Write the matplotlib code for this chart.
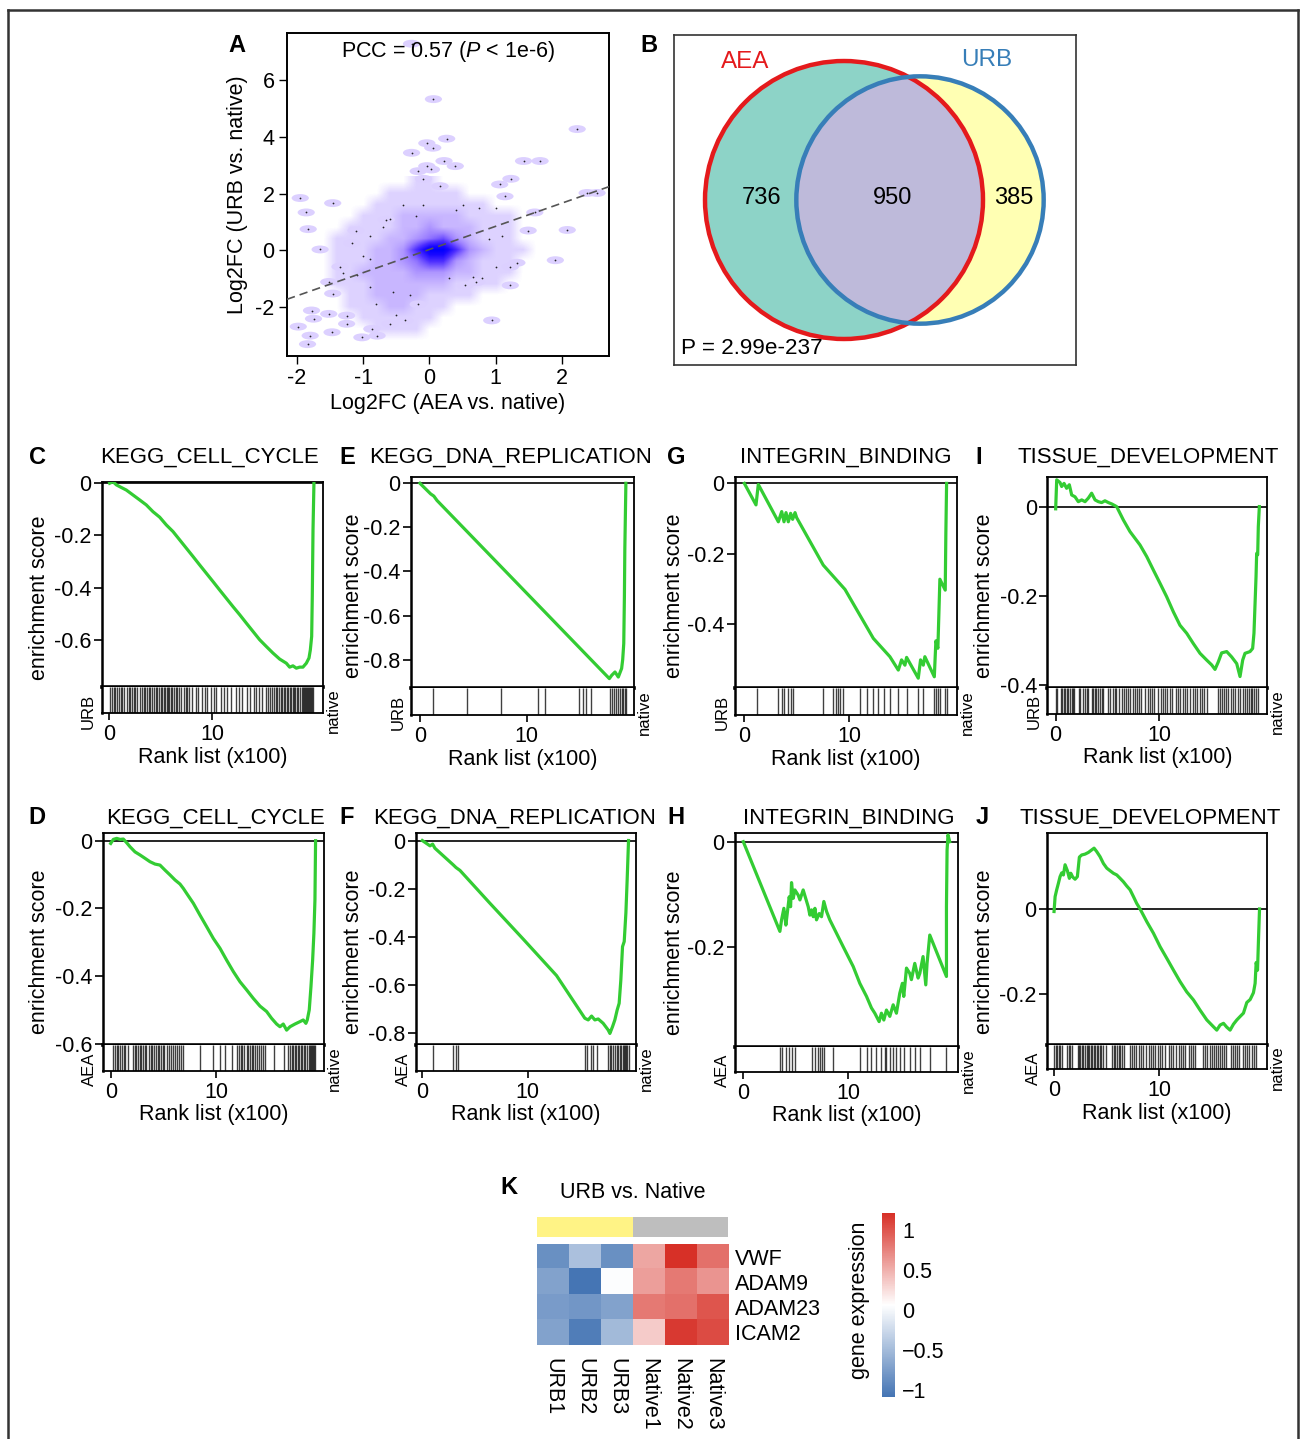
import numpy as np
import matplotlib
matplotlib.use("Agg")
import matplotlib.pyplot as plt
from matplotlib.colors import LinearSegmentedColormap, Normalize
from matplotlib.patches import Circle, Ellipse
from matplotlib.lines import Line2D

plt.rcParams['font.family'] = ['Liberation Sans', 'DejaVu Sans']
plt.rcParams['axes.unicode_minus'] = False
plt.rcParams['mathtext.fontset'] = 'custom'
plt.rcParams['mathtext.rm'] = 'Liberation Sans'
plt.rcParams['mathtext.it'] = 'Liberation Sans:italic'

FS = 15.5
W, H = 1300, 1439

# ---------------- data: panel A (smooth scatter) ----------------
dens_x = [-1.6, -1.4, -1.2, -1.0, -0.8, -0.6, -0.4, -0.2, 0.0, 0.2, 0.4, 0.6, 0.8, 1.0, 1.2, 1.4, 1.6]
dens_y = [2.4, 2.0, 1.6, 1.2, 0.8, 0.4, 0.0, -0.4, -0.8, -1.2, -1.6, -2.0, -2.4, -2.8, -3.2]
dens_rows = [
    "00000001100000000",
    "00000111111000000",
    "00001111111110000",
    "00011122222111100",
    "00111122322211100",
    "01111223453211100",
    "01112236996321110",
    "01112234663211100",
    "01122223332211100",
    "01112222221111000",
    "00112222111100000",
    "00111221110000000",
    "00011111100000000",
    "00001111000000000",
    "00000000000000000",
]
out_x = [-0.27, 0.06, 2.23, 0.26, -0.04, 0.05, -0.27, 1.42, 1.67, 0.22, 0.39, -0.04, 0.03, -0.17,
         -0.09, 1.23, 0.16, 1.06, -1.95, -1.46, 2.53, 2.38, -1.86, 1.14, 1.59, -0.65, -1.83, -1.11,
         2.08, -1.65, -1.17, 1.90, 0.94, -1.98, -1.84, -1.80, -1.78, -1.75, -1.52, -1.47, -1.25,
         -1.25, -1.02, -0.79, -0.87, -0.37, -0.59, -0.17, 1.22, 1.32, 1.22, 0.71, 0.54, -1.46,
         -1.35, -1.52, 1.49]
out_y = [7.30, 5.34, 4.28, 3.94, 3.78, 3.62, 3.44, 3.15, 3.15, 3.15, 2.97, 2.97, 2.85, 2.79,
         2.52, 2.52, 2.26, 2.32, 1.84, 1.66, 2.02, 2.02, 1.33, 1.90, 1.33, 1.07, 0.74, 0.69,
         0.71, 0.02, 0.24, -0.36, -2.49, -2.71, -3.33, -3.03, -2.14, -2.43, -2.26, -2.91, -2.32,
         -2.61, -3.09, -3.03, -2.79, -2.49, -2.61, -1.92, -0.59, -0.45, -1.25, -1.13, -1.25, -1.54,
         -0.59, -1.13, 0.69]
dot_x = [-0.6, -0.4, -0.1, 0.4, 0.75, 1.0, -0.9, -0.9, -1.1, -0.9, -0.55, -0.3, -0.5, 0.3, 0.8,
         0.9, 1.1, 1.0, -0.7, -0.2, -1.3, -1.0, 0.5, -0.8, 0.65]
dot_y = [1.1, 1.6, 1.6, 1.4, 1.5, 1.5, 0.5, -0.3, -0.9, -1.3, -1.5, -1.6, -2.3, -1.0, -1.0,
         0.4, 0.5, -0.6, 0.8, 1.2, -0.8, -0.2, 1.6, -1.9, -0.95]
fit_slope = 0.82
fit_intercept = 0.02

# ---------------- data: panel B (venn) ----------------
venn_only_aea, venn_both, venn_only_urb = 736, 950, 385
venn_p = "P = 2.99e-237"

# ---------------- data: GSEA curves (rank x100, enrichment score) ----------------
c_rank = [0.06, 0.39, 0.71, 1.04, 1.68, 2.33, 2.98, 3.62, 4.27, 4.92, 5.57, 6.21, 6.86, 7.51, 8.16,
          8.80, 9.45, 10.1, 10.74, 11.39, 12.04, 12.69, 13.33, 13.98, 14.63, 15.28, 15.92, 16.57,
          17.22, 17.54, 17.86, 18.19, 18.51, 18.83, 19.16, 19.42, 19.55, 19.68, 19.74, 19.81, 19.9]
c_es = [0, 0.006, -0.006, -0.013, -0.026, -0.045, -0.064, -0.083, -0.109, -0.13, -0.16, -0.185,
        -0.217, -0.249, -0.281, -0.313, -0.345, -0.377, -0.409, -0.441, -0.473, -0.504, -0.536,
        -0.568, -0.60, -0.626, -0.651, -0.674, -0.69, -0.705, -0.70, -0.709, -0.705, -0.705, -0.69,
        -0.67, -0.639, -0.587, -0.434, -0.179, 0]
c_hits = [0.1, 0.3, 0.5, 0.6, 0.8, 1.0, 1.2, 1.3, 1.5, 1.7, 1.9, 2.0, 2.2, 2.4, 2.5, 2.7, 3.0, 3.2,
          3.4, 3.5, 3.7, 3.9, 4.0, 4.2, 4.4, 4.6, 4.7, 4.9, 5.0, 5.1, 5.3, 5.4, 5.6, 5.7, 5.8, 6.0,
          6.1, 6.3, 6.5, 6.6, 6.8, 7.0, 7.3, 7.5, 7.6, 7.8, 8.1, 8.4, 8.6, 9.0, 9.3, 9.5, 9.9, 10.2,
          10.4, 10.9, 11.2, 11.5, 11.8, 12.3, 12.6, 12.9, 13.4, 13.7, 14.1, 14.3, 14.6, 14.9, 15.2,
          15.4, 15.6, 15.8, 16.0, 16.2, 16.3, 16.5, 16.7, 16.8, 17.0, 17.1, 17.3, 17.4, 17.6, 17.7,
          17.9, 18.0, 18.1, 18.3, 18.4, 18.5, 18.7, 18.8, 18.9, 19.0, 19.1, 19.2, 19.3, 19.4, 19.5,
          19.6, 19.7, 19.8]

e_rank = [0, 1.0, 1.3, 1.6, 17.75, 17.97, 18.28, 18.59, 18.9, 19.0, 19.1, 19.16, 19.2, 19.3]
e_es = [0, -0.048, -0.058, -0.078, -0.886, -0.871, -0.856, -0.879, -0.84, -0.80, -0.727, -0.515,
        -0.30, 0]
e_hits = [1.19, 4.38, 7.6, 11.1, 11.7, 14.9, 15.3, 15.6, 16.0, 17.8, 18.0, 18.2, 18.4, 18.6, 18.75,
          18.9, 19.06, 19.2, 19.3]

g_rank = [0, 1.11, 1.33, 3.24, 3.56, 3.78, 3.97, 4.19, 4.41, 4.60, 4.83, 4.98, 7.52, 9.59, 12.29,
          13.87, 14.67, 14.98, 15.3, 15.46, 16.57, 16.79, 17.05, 17.2, 18.1, 18.25, 18.44, 18.63,
          19.14, 19.2, 19.27]
g_es = [0, -0.061, -0.003, -0.109, -0.080, -0.109, -0.083, -0.109, -0.085, -0.102, -0.083, -0.097,
        -0.232, -0.301, -0.44, -0.492, -0.53, -0.501, -0.516, -0.494, -0.553, -0.501, -0.516,
        -0.492, -0.549, -0.447, -0.468, -0.272, -0.303, -0.142, 0]
g_hits = [1.17, 3.24, 3.56, 3.78, 4.19, 4.41, 4.67, 7.52, 8.48, 8.73, 8.89, 9.11, 9.37, 11.02,
          11.65, 12.29, 12.76, 13.3, 13.87, 14.67, 15.46, 16.57, 17.05, 18.1, 18.25, 18.44, 18.63,
          19.14, 19.33]

i_rank = [0, 0.1, 0.42, 0.58, 0.81, 1.06, 1.32, 1.55, 1.87, 2.19, 2.52, 2.84, 3.16, 3.48, 3.81,
          4.13, 4.45, 4.77, 5.1, 5.42, 5.9, 6.55, 7.19, 8.16, 8.81, 9.45, 10.1, 10.74, 11.39, 12.03,
          12.68, 13.32, 13.97, 14.61, 15.1, 15.42, 15.74, 16.06, 16.55, 17.03, 17.52, 17.84, 18.1,
          18.32, 18.81, 19.06, 19.19, 19.39, 19.45, 19.55, 19.61, 19.71]
i_es = [-0.005, 0.06, 0.054, 0.045, 0.052, 0.041, 0.049, 0.026, 0.022, 0.011, 0.015, 0.011, 0.019,
        0.030, 0.015, 0.011, 0.009, 0.013, 0.009, 0.006, 0, -0.030, -0.056, -0.086, -0.112, -0.142,
        -0.172, -0.202, -0.236, -0.266, -0.284, -0.307, -0.329, -0.344, -0.355, -0.365, -0.348,
        -0.328, -0.325, -0.337, -0.352, -0.381, -0.344, -0.329, -0.325, -0.318, -0.284, -0.157,
        -0.105, -0.108, -0.045, 0]
i_hits = [0.0, 0.1, 0.5, 0.6, 0.8, 0.9, 1.1, 1.2, 1.4, 1.6, 1.7, 1.8, 2.3, 2.4, 2.6, 2.8, 3.0, 3.1,
          3.5, 3.6, 3.8, 3.9, 4.1, 4.3, 4.5, 4.6, 5.1, 5.3, 5.5, 5.7, 5.8, 6.1, 6.4, 6.6, 6.8, 7.0,
          7.2, 7.5, 7.7, 7.9, 8.1, 8.3, 8.6, 8.9, 9.1, 9.3, 9.5, 9.9, 10.2, 10.4, 10.6, 10.8, 11.1,
          11.3, 11.6, 11.8, 12.0, 12.3, 12.5, 12.7, 13.0, 13.3, 13.5, 13.7, 14.0, 14.2, 14.4, 14.6,
          15.7, 15.9, 16.1, 16.3, 16.5, 16.7, 17.0, 17.2, 17.4, 17.6, 17.8, 18.1, 18.3, 18.5, 18.7,
          18.9, 19.0, 19.2, 19.4, 19.6]

d_rank = [0, 0.25, 0.57, 0.89, 1.2, 1.52, 1.84, 2.31, 2.78, 3.26, 3.73, 4.21, 4.68, 5.16, 5.63,
          6.11, 6.58, 6.9, 7.22, 7.85, 8.48, 9.11, 9.75, 10.38, 11.01, 11.65, 12.28, 12.91, 13.54,
          14.18, 14.81, 15.28, 15.76, 16.08, 16.39, 16.71, 17.03, 17.5, 17.97, 18.29, 18.54, 18.67,
          18.86, 19.02, 19.18, 19.3, 19.4, 19.46]
d_es = [-0.008, 0.004, 0.007, 0.004, 0.005, -0.006, -0.018, -0.033, -0.042, -0.052, -0.062,
        -0.069, -0.072, -0.087, -0.101, -0.116, -0.128, -0.141, -0.156, -0.185, -0.22, -0.254,
        -0.289, -0.318, -0.353, -0.387, -0.417, -0.441, -0.466, -0.489, -0.505, -0.525, -0.542,
        -0.55, -0.542, -0.56, -0.55, -0.542, -0.535, -0.53, -0.54, -0.53, -0.50, -0.432, -0.353,
        -0.274, -0.175, 0]
d_hits = [0.2, 0.4, 0.6, 0.7, 0.9, 1.1, 1.3, 1.4, 1.6, 2.1, 2.3, 2.4, 2.6, 2.8, 2.9, 3.1, 3.3, 3.4,
          3.6, 3.8, 3.9, 4.1, 4.3, 4.5, 4.6, 4.8, 5.0, 5.1, 5.3, 5.5, 5.7, 5.9, 6.1, 6.3, 6.5, 6.7,
          6.9, 8.5, 9.7, 10.4, 10.9, 11.5, 12.0, 12.2, 12.4, 12.5, 12.7, 12.9, 13.0, 13.2, 13.4,
          13.5, 13.7, 13.9, 14.1, 14.3, 14.5, 14.7, 15.5, 16.5, 16.8, 17.0, 17.2, 17.3, 17.5, 17.6,
          17.8, 17.9, 18.1, 18.2, 18.4, 18.5, 18.6, 18.8, 18.9, 19.0, 19.1, 19.2, 19.3, 19.4]

f_rank = [0, 0.73, 0.98, 1.2, 2.94, 3.2, 3.58, 6.42, 9.59, 12.75, 15.44, 15.76, 16.08, 16.39, 16.71,
          17.18, 17.66, 17.82, 18.07, 18.29, 18.51, 18.7, 18.86, 19.02, 19.18, 19.34, 19.46, 19.59]
f_es = [0, -0.022, -0.015, -0.032, -0.101, -0.112, -0.124, -0.26, -0.409, -0.56, -0.737, -0.744,
        -0.728, -0.744, -0.74, -0.758, -0.786, -0.80, -0.772, -0.744, -0.703, -0.675, -0.578,
        -0.44, -0.419, -0.30, -0.163, 0]
f_hits = [0.98, 2.94, 3.2, 3.42, 15.44, 15.66, 15.98, 16.23, 16.61, 17.66, 17.82, 17.97, 18.13,
          18.29, 18.45, 18.61, 18.77, 18.92, 19.02, 19.15, 19.24, 19.34, 19.46, 19.59]

h_rank = [0, 3.49, 3.65, 3.87, 4.06, 4.19, 4.38, 4.51, 4.6, 4.76, 4.92, 5.24, 5.4, 5.71, 6.19, 6.35,
          6.51, 6.67, 6.83, 6.98, 7.24, 7.46, 7.68, 7.94, 8.25, 9.52, 10.48, 11.11, 11.75, 12.22,
          12.54, 12.95, 13.17, 13.4, 13.65, 13.97, 14.29, 14.6, 14.92, 15.17, 15.3, 15.56, 15.87,
          16.03, 16.35, 16.67, 16.83, 17.14, 17.4, 17.52, 17.78, 19.37, 19.37, 19.43, 19.52, 19.68]
h_es = [0, -0.171, -0.149, -0.127, -0.159, -0.137, -0.105, -0.124, -0.078, -0.108, -0.092, -0.102,
        -0.111, -0.092, -0.124, -0.14, -0.13, -0.143, -0.127, -0.149, -0.137, -0.143, -0.114,
        -0.133, -0.149, -0.2, -0.238, -0.27, -0.295, -0.317, -0.327, -0.343, -0.327, -0.34,
        -0.321, -0.333, -0.311, -0.327, -0.289, -0.27, -0.295, -0.241, -0.251, -0.263, -0.232,
        -0.26, -0.251, -0.219, -0.273, -0.232, -0.178, -0.257, -0.124, -0.016, 0.013, 0]
h_hits = [3.49, 3.65, 4.06, 4.38, 4.6, 4.92, 6.51, 6.83, 7.14, 7.3, 7.46, 7.68, 8.57, 11.11, 11.75,
          12.22, 12.7, 13.17, 13.49, 13.65, 13.97, 14.29, 14.6, 14.92, 15.3, 15.87, 16.35, 16.83,
          17.78, 19.37]

j_rank = [0, 0.1, 0.25, 0.41, 0.57, 0.73, 0.89, 1.05, 1.27, 1.46, 1.59, 1.78, 2.0, 2.22, 2.41, 2.63,
          2.95, 3.27, 3.59, 3.81, 4.06, 4.38, 4.7, 5.02, 5.33, 5.65, 5.97, 6.29, 6.6, 6.92, 7.24,
          7.56, 7.87, 8.19, 8.83, 9.46, 10.1, 10.73, 11.37, 12.0, 12.63, 13.27, 13.9, 14.54, 15.17,
          15.49, 15.81, 16.13, 16.44, 16.76, 17.08, 17.4, 17.71, 18.03, 18.35, 18.67, 18.98, 19.14,
          19.24, 19.37, 19.46, 19.56]
j_es = [-0.006, 0.029, 0.045, 0.06, 0.076, 0.085, 0.08, 0.104, 0.09, 0.072, 0.084, 0.075, 0.07,
        0.076, 0.122, 0.127, 0.129, 0.133, 0.139, 0.143, 0.135, 0.123, 0.107, 0.096, 0.09, 0.084,
        0.08, 0.072, 0.064, 0.054, 0.045, 0.029, 0.013, 0, -0.03, -0.057, -0.089, -0.116, -0.144,
        -0.171, -0.195, -0.214, -0.238, -0.261, -0.277, -0.285, -0.273, -0.269, -0.278, -0.285,
        -0.271, -0.261, -0.253, -0.245, -0.22, -0.213, -0.197, -0.175, -0.126, -0.144, -0.073, 0]
j_hits = [0.0, 0.2, 0.3, 0.5, 0.6, 0.8, 1.2, 1.4, 1.5, 1.7, 2.3, 2.4, 2.5, 2.7, 2.8, 2.9, 3.1, 3.2,
          3.3, 3.5, 3.6, 3.8, 3.9, 4.1, 4.2, 4.4, 4.5, 4.7, 4.9, 5.5, 5.7, 5.8, 6.0, 6.2, 6.3, 6.5,
          6.7, 7.2, 7.4, 7.6, 7.8, 8.1, 8.3, 8.5, 8.8, 9.0, 9.2, 9.4, 9.6, 9.9, 10.1, 10.3, 10.6,
          10.9, 11.1, 11.3, 11.6, 11.9, 12.1, 12.3, 12.5, 12.8, 13.0, 13.2, 13.4, 14.2, 14.4, 14.6,
          14.8, 15.0, 15.2, 15.4, 15.6, 15.8, 16.0, 16.2, 16.4, 16.8, 17.0, 17.2, 17.4, 17.6, 18.0,
          18.2, 18.4, 18.6, 18.8, 19.0, 19.2]

# ---------------- data: panel K (heatmap) ----------------
k_genes = ["VWF", "ADAM9", "ADAM23", "ICAM2"]
k_samples = ["URB1", "URB2", "URB3", "Native1", "Native2", "Native3"]
k_groups = ["URB", "URB", "URB", "Native", "Native", "Native"]
k_values = [[-0.85, -0.45, -0.85, 0.55, 1.21, 0.85],
            [-0.70, -1.08, 0.05, 0.60, 0.80, 0.65],
            [-0.75, -0.80, -0.70, 0.80, 0.85, 1.00],
            [-0.70, -1.00, -0.50, 0.35, 1.15, 1.05]]
k_cbar_ticks = [1, 0.5, 0, -0.5, -1]

# ---------------- figure ----------------
fig = plt.figure(figsize=(W / 100, H / 100), dpi=100)


def ax_px(l, t, r, b):
    return fig.add_axes([l / W, 1 - b / H, (r - l) / W, (b - t) / H])


def txt(x, y, s, **kw):
    kw.setdefault('ha', 'center')
    kw.setdefault('va', 'center')
    kw.setdefault('fontsize', FS)
    return fig.text(x / W, 1 - y / H, s, **kw)


# outer frame
for xs, ys in [([8, 8], [10, 1439]), ([8, 1298], [10, 10]), ([1298, 1298], [10, 1439])]:
    fig.add_artist(Line2D([x / W for x in xs], [1 - y / H for y in ys], color='#333333', lw=1.8))

# --- A ---
axA = ax_px(287, 33, 609, 356)
cmapA = LinearSegmentedColormap.from_list(
    'ss', [(0, '#FFFFFF'), (0.11, '#DDD2FF'), (0.22, '#C8B6FF'), (0.4, '#9E82FF'),
           (0.65, '#4F30FF'), (0.85, '#1A08FF'), (1, '#0000FF')])
grid = np.array([[int(c) for c in row] for row in dens_rows])
dx = dens_x[1] - dens_x[0]
dy = dens_y[0] - dens_y[1]
axA.imshow(grid, extent=[dens_x[0] - dx / 2, dens_x[-1] + dx / 2, dens_y[-1] - dy / 2, dens_y[0] + dy / 2],
           origin='upper', cmap=cmapA, vmin=0, vmax=9, interpolation='bilinear', aspect='auto', zorder=1)
for x, y in zip(out_x, out_y):
    axA.add_patch(Ellipse((x, y), 0.26, 0.28, color='#DCD0FF', lw=0, zorder=2))
axA.scatter(out_x + dot_x, out_y + dot_y, s=1.6, color='#222222', zorder=4, lw=0)
axA.axline((0, fit_intercept), slope=fit_slope, ls=(0, (5, 3)), color='#555555', lw=1.2, zorder=5)
axA.set_xlim(-2.15, 2.71)
axA.set_ylim(-3.75, 7.68)
axA.set_xticks([-2, -1, 0, 1, 2])
axA.set_yticks([-2, 0, 2, 4, 6])
axA.tick_params(labelsize=FS, length=6, width=1, pad=3)
for s in axA.spines.values():
    s.set_linewidth(1.4)
txt(448, 403, "Log2FC (AEA vs. native)")
txt(238, 195, "Log2FC (URB vs. native)", rotation=90)
txt(448, 52, r"PCC = 0.57 ($\mathit{P}$ < 1e-6)")
txt(237, 45, "A", fontweight='bold', fontsize=17)

# --- B ---
axB = ax_px(674, 35, 1076, 365)
axB.set_xlim(674, 1076)
axB.set_ylim(365, 35)
axB.set_xticks([])
axB.set_yticks([])
for s in axB.spines.values():
    s.set_linewidth(1.2)
    s.set_color('#333333')
n_aea = venn_only_aea + venn_both
n_urb = venn_only_urb + venn_both
r_k = 3.385
c_aea, c_urb = (844, 200), (920, 200)
circ_a = Circle(c_aea, r_k * np.sqrt(n_aea), facecolor='#8DD3C7', edgecolor='none')
circ_u = Circle(c_urb, r_k * np.sqrt(n_urb), facecolor='#FFFFB3', edgecolor='none')
axB.add_patch(circ_a)
axB.add_patch(circ_u)
inter = Circle(c_urb, r_k * np.sqrt(n_urb), facecolor='#BEBADA', edgecolor='none')
axB.add_patch(inter)
inter.set_clip_path(circ_a)
axB.add_patch(Circle(c_aea, r_k * np.sqrt(n_aea), facecolor='none', edgecolor='#E41A1C', lw=3.2))
axB.add_patch(Circle(c_urb, r_k * np.sqrt(n_urb), facecolor='none', edgecolor='#377EB8', lw=3.2))
txt(745, 62, "AEA", color='#E41A1C', fontsize=17.5)
txt(987, 60, "URB", color='#377EB8', fontsize=17.5)
txt(762, 198, str(venn_only_aea), fontsize=17)
txt(893, 198, str(venn_both), fontsize=17)
txt(1014, 198, str(venn_only_urb), fontsize=17)
txt(681, 349, venn_p, ha='left', fontsize=16.2)
txt(649, 45, "B", fontweight='bold', fontsize=17)

# --- GSEA panels ---
gsea = [
    # letter, title, rank, es, hits, side, (l, t, r, b, rug_b), xlim, ylim, yticks, title_x, ylab_x, letter_xy
    ("C", "KEGG_CELL_CYCLE", c_rank, c_es, c_hits, "URB", (101.7, 481.7, 323, 686.7, 713.3),
     (-0.71, 20.78), (-0.78, 0.006), [0, -0.2, -0.4, -0.6], 210, 40, (37, 457)),
    ("E", "KEGG_DNA_REPLICATION", e_rank, e_es, e_hits, "URB", (411, 476.7, 634, 688.3, 715),
     (-0.84, 20.06), (-0.93, 0.03), [0, -0.2, -0.4, -0.6, -0.8], 511, 353, (347, 457)),
    ("G", "INTEGRIN_BINDING", g_rank, g_es, g_hits, "URB", (735, 476.7, 957.3, 687.7, 715),
     (-0.89, 20.29), (-0.58, 0.019), [0, -0.2, -0.4], 846, 675, (676, 457)),
    ("I", "TISSUE_DEVELOPMENT", i_rank, i_es, i_hits, "URB", (1047.3, 476.7, 1267.3, 687.7, 714),
     (-0.81, 20.48), (-0.406, 0.067), [0, -0.2, -0.4], 1148, 985, (979, 457)),
    ("D", "KEGG_CELL_CYCLE", d_rank, d_es, d_hits, "AEA", (102.7, 833.3, 324, 1045, 1070.7),
     (-0.76, 20.26), (-0.604, 0.022), [0, -0.2, -0.4, -0.6], 216, 40, (37, 818)),
    ("F", "KEGG_DNA_REPLICATION", f_rank, f_es, f_hits, "AEA", (416, 833.3, 636, 1045, 1070.7),
     (-0.6, 20.3), (-0.848, 0.03), [0, -0.2, -0.4, -0.6, -0.8], 515, 353, (347, 818)),
    ("H", "INTEGRIN_BINDING", h_rank, h_es, h_hits, "AEA", (735, 833.3, 958.3, 1047.3, 1071.7),
     (-0.79, 20.5), (-0.392, 0.016), [0, -0.2], 849, 675, (676, 818)),
    ("J", "TISSUE_DEVELOPMENT", j_rank, j_es, j_hits, "AEA", (1046.7, 833.3, 1267.3, 1045, 1069.3),
     (-0.7, 20.3), (-0.32, 0.178), [0, -0.2], 1150, 985, (982, 818)),
]

for (letter, title, rank, es, hits, side, box, xlim, ylim, yt, tx, ylx, lxy) in gsea:
    l, t, r, b, rb = box
    ax = ax_px(l, t, r, b)
    ax.plot(rank, es, color='#33CC33', lw=2.3, zorder=3)
    ax.axhline(0, color='black', lw=1.2, zorder=2)
    ax.set_xlim(*xlim)
    ax.set_ylim(*ylim)
    ax.set_xticks([])
    ax.set_yticks(yt)
    ax.set_yticklabels(['0' if v == 0 else f'{v:.1f}' for v in yt])
    ax.tick_params(axis='y', labelsize=FS, length=6, width=1.2, pad=1.5)
    for s in ax.spines.values():
        s.set_linewidth(1.3)
    ax.spines['bottom'].set_linewidth(2.6)
    ax.spines['left'].set_linewidth(1.8)

    rug = ax_px(l, b, r, rb)
    rug.vlines(hits, 0, 1, color='black', lw=1.0, alpha=0.75)
    rug.set_xlim(*xlim)
    rug.set_ylim(0, 1)
    rug.set_yticks([])
    rug.set_xticks([0, 10])
    rug.tick_params(axis='x', labelsize=FS, length=5, width=1.2, pad=3)
    for s in rug.spines.values():
        s.set_linewidth(1.3)
    rug.spines['top'].set_visible(False)
    rug.spines['left'].set_linewidth(1.8)

    ymid = (b + rb) / 2 + 11
    txt(l - 13, ymid, side, rotation=90, fontsize=12)
    txt(r + 10, ymid, "native", rotation=90, fontsize=12)
    txt((l + r) / 2, rb + 44, "Rank list (x100)")
    txt(ylx, (t + rb) / 2, "enrichment score", rotation=90)
    txt(tx, lxy[1], title, fontsize=16)
    txt(lxy[0], lxy[1], letter, fontweight='bold', fontsize=17)

# --- K ---
grp_colors = {"URB": '#FFF385', "Native": '#BEBEBE'}
axK0 = ax_px(536.7, 1216.7, 728.3, 1236.7)
axK0.bar(range(len(k_groups)), 1, width=1.0, color=[grp_colors[g] for g in k_groups], lw=0)
axK0.set_xlim(-0.5, len(k_groups) - 0.5)
axK0.set_ylim(0, 1)
axK0.axis('off')

vals = np.array(k_values)
cmapK = LinearSegmentedColormap.from_list('bwr_k', ['#4575B4', '#FFFFFF', '#D73027'])
normK = Normalize(vmin=vals.min(), vmax=vals.max())
axK = ax_px(536.7, 1244, 728.3, 1345)
im = axK.imshow(vals, cmap=cmapK, norm=normK, aspect='auto', interpolation='nearest')
axK.set_xticks(range(len(k_samples)))
axK.set_xticklabels(k_samples, rotation=-90, fontsize=FS)
axK.set_yticks(range(len(k_genes)))
axK.set_yticklabels(k_genes, fontsize=FS)
axK.yaxis.tick_right()
axK.tick_params(length=0)
axK.tick_params(axis='y', pad=5)
axK.tick_params(axis='x', pad=9)
for s in axK.spines.values():
    s.set_visible(False)

cax = ax_px(881.7, 1213.3, 895, 1396.7)
cb = fig.colorbar(im, cax=cax)
cb.set_ticks(k_cbar_ticks)
cb.set_ticklabels([f'{v:g}'.replace('-', '\u2212') for v in k_cbar_ticks])
cb.ax.tick_params(length=0, labelsize=FS, pad=5)
cb.outline.set_visible(False)
txt(860, 1300, "gene expression", rotation=90)
txt(633, 1192, "URB vs. Native")
txt(509, 1188, "K", fontweight='bold', fontsize=17)

fig.savefig("out.png", dpi=100)
